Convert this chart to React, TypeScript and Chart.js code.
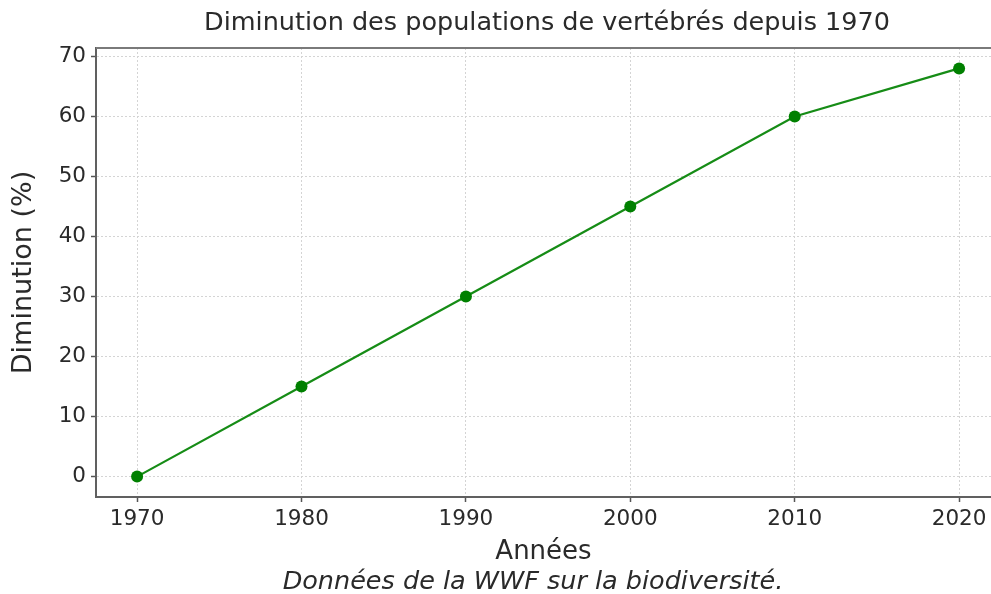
import React, { useEffect, useRef } from "react";
import { Chart, registerables } from "chart.js";

Chart.register(...registerables);

const years = [1970, 1980, 1990, 2000, 2010, 2020];
const decline = [0, 15, 30, 45, 60, 68];
const chartTitle = "Diminution des populations de vertébrés depuis 1970";
const xTitle = "Années";
const yTitle = "Diminution (%)";
const caption = "Données de la WWF sur la biodiversité.";

const FONT = "'DejaVu Sans', sans-serif";
const TEXT = "#2a2a2a";

const framePlugin = {
  id: "frame",
  afterDraw(chart: any) {
    const { ctx, chartArea } = chart;
    ctx.save();
    ctx.strokeStyle = "#7a7a7a";
    ctx.lineWidth = 2;
    ctx.beginPath();
    ctx.moveTo(chartArea.left, chartArea.top);
    ctx.lineTo(chartArea.right, chartArea.top);
    ctx.stroke();
    ctx.fillStyle = TEXT;
    ctx.textAlign = "center";
    ctx.textBaseline = "middle";
    ctx.font = `25.5px ${FONT}`;
    ctx.fillText(chartTitle, 547, 23);
    ctx.font = `italic 25.5px ${FONT}`;
    ctx.fillText(caption, 533, 582);
    ctx.restore();
  },
};

export default function App() {
  const ref = useRef<HTMLCanvasElement>(null);
  useEffect(() => {
    if (!ref.current) return;
    const chart = new Chart(ref.current, {
      type: "line",
      data: {
        datasets: [
          {
            data: years.map((y, i) => ({ x: y, y: decline[i] })),
            borderColor: "#168c16",
            backgroundColor: "#008000",
            pointBackgroundColor: "#008000",
            pointBorderColor: "#008000",
            borderWidth: 2.2,
            pointRadius: 6,
            pointBorderWidth: 0,
            tension: 0,
          },
        ],
      },
      options: {
        animation: false,
        responsive: false,
        events: [],
        layout: { autoPadding: false, padding: { top: 48, left: 0, right: 0, bottom: 0 } },
        plugins: { legend: { display: false }, tooltip: { enabled: false } },
        scales: {
          x: {
            type: "linear",
            min: 1967.5,
            max: 2021.94,
            afterFit: (s: any) => {
              s.height = 97;
              s.paddingLeft = 0;
              s.paddingRight = 0;
            },
            ticks: {
              stepSize: 10,
              includeBounds: false,
              autoSkip: false,
              maxRotation: 0,
              padding: 5,
              color: TEXT,
              font: { family: FONT, size: 21.5 },
              callback: (v: any) => String(v),
            },
            grid: {
              color: "#d4d4d4",
              lineWidth: 1,
              tickLength: 5,
              tickColor: "#555",
              tickBorderDash: [],
              tickWidth: 1.5,
            },
            border: { display: true, color: "#606060", width: 2, dash: [2, 2] },
            title: {
              display: true,
              text: xTitle,
              color: TEXT,
              font: { family: FONT, size: 26 },
              padding: { top: 0, bottom: 26 },
            },
          },
          y: {
            type: "linear",
            min: -3.4,
            max: 71.4,
            afterFit: (s: any) => {
              s.width = 96;
              s.paddingTop = 0;
              s.paddingBottom = 0;
            },
            ticks: {
              stepSize: 10,
              includeBounds: false,
              padding: 5,
              color: TEXT,
              font: { family: FONT, size: 21.5 },
            },
            grid: {
              color: "#d4d4d4",
              lineWidth: 1,
              tickLength: 5,
              tickColor: "#555",
              tickBorderDash: [],
              tickWidth: 1.5,
            },
            border: { display: true, color: "#606060", width: 2, dash: [2, 2] },
            title: {
              display: true,
              text: yTitle,
              color: TEXT,
              font: { family: FONT, size: 27 },
              padding: { top: 8, bottom: 0 },
            },
          },
        },
      },
      plugins: [framePlugin],
    });
    return () => chart.destroy();
  }, []);

  return (
    <div
      style={{
        position: "fixed",
        left: 0,
        top: 0,
        width: 991,
        height: 594,
        overflow: "hidden",
        background: "#fff",
      }}
    >
      <canvas ref={ref} width={991} height={594} style={{ display: "block" }} />
    </div>
  );
}
